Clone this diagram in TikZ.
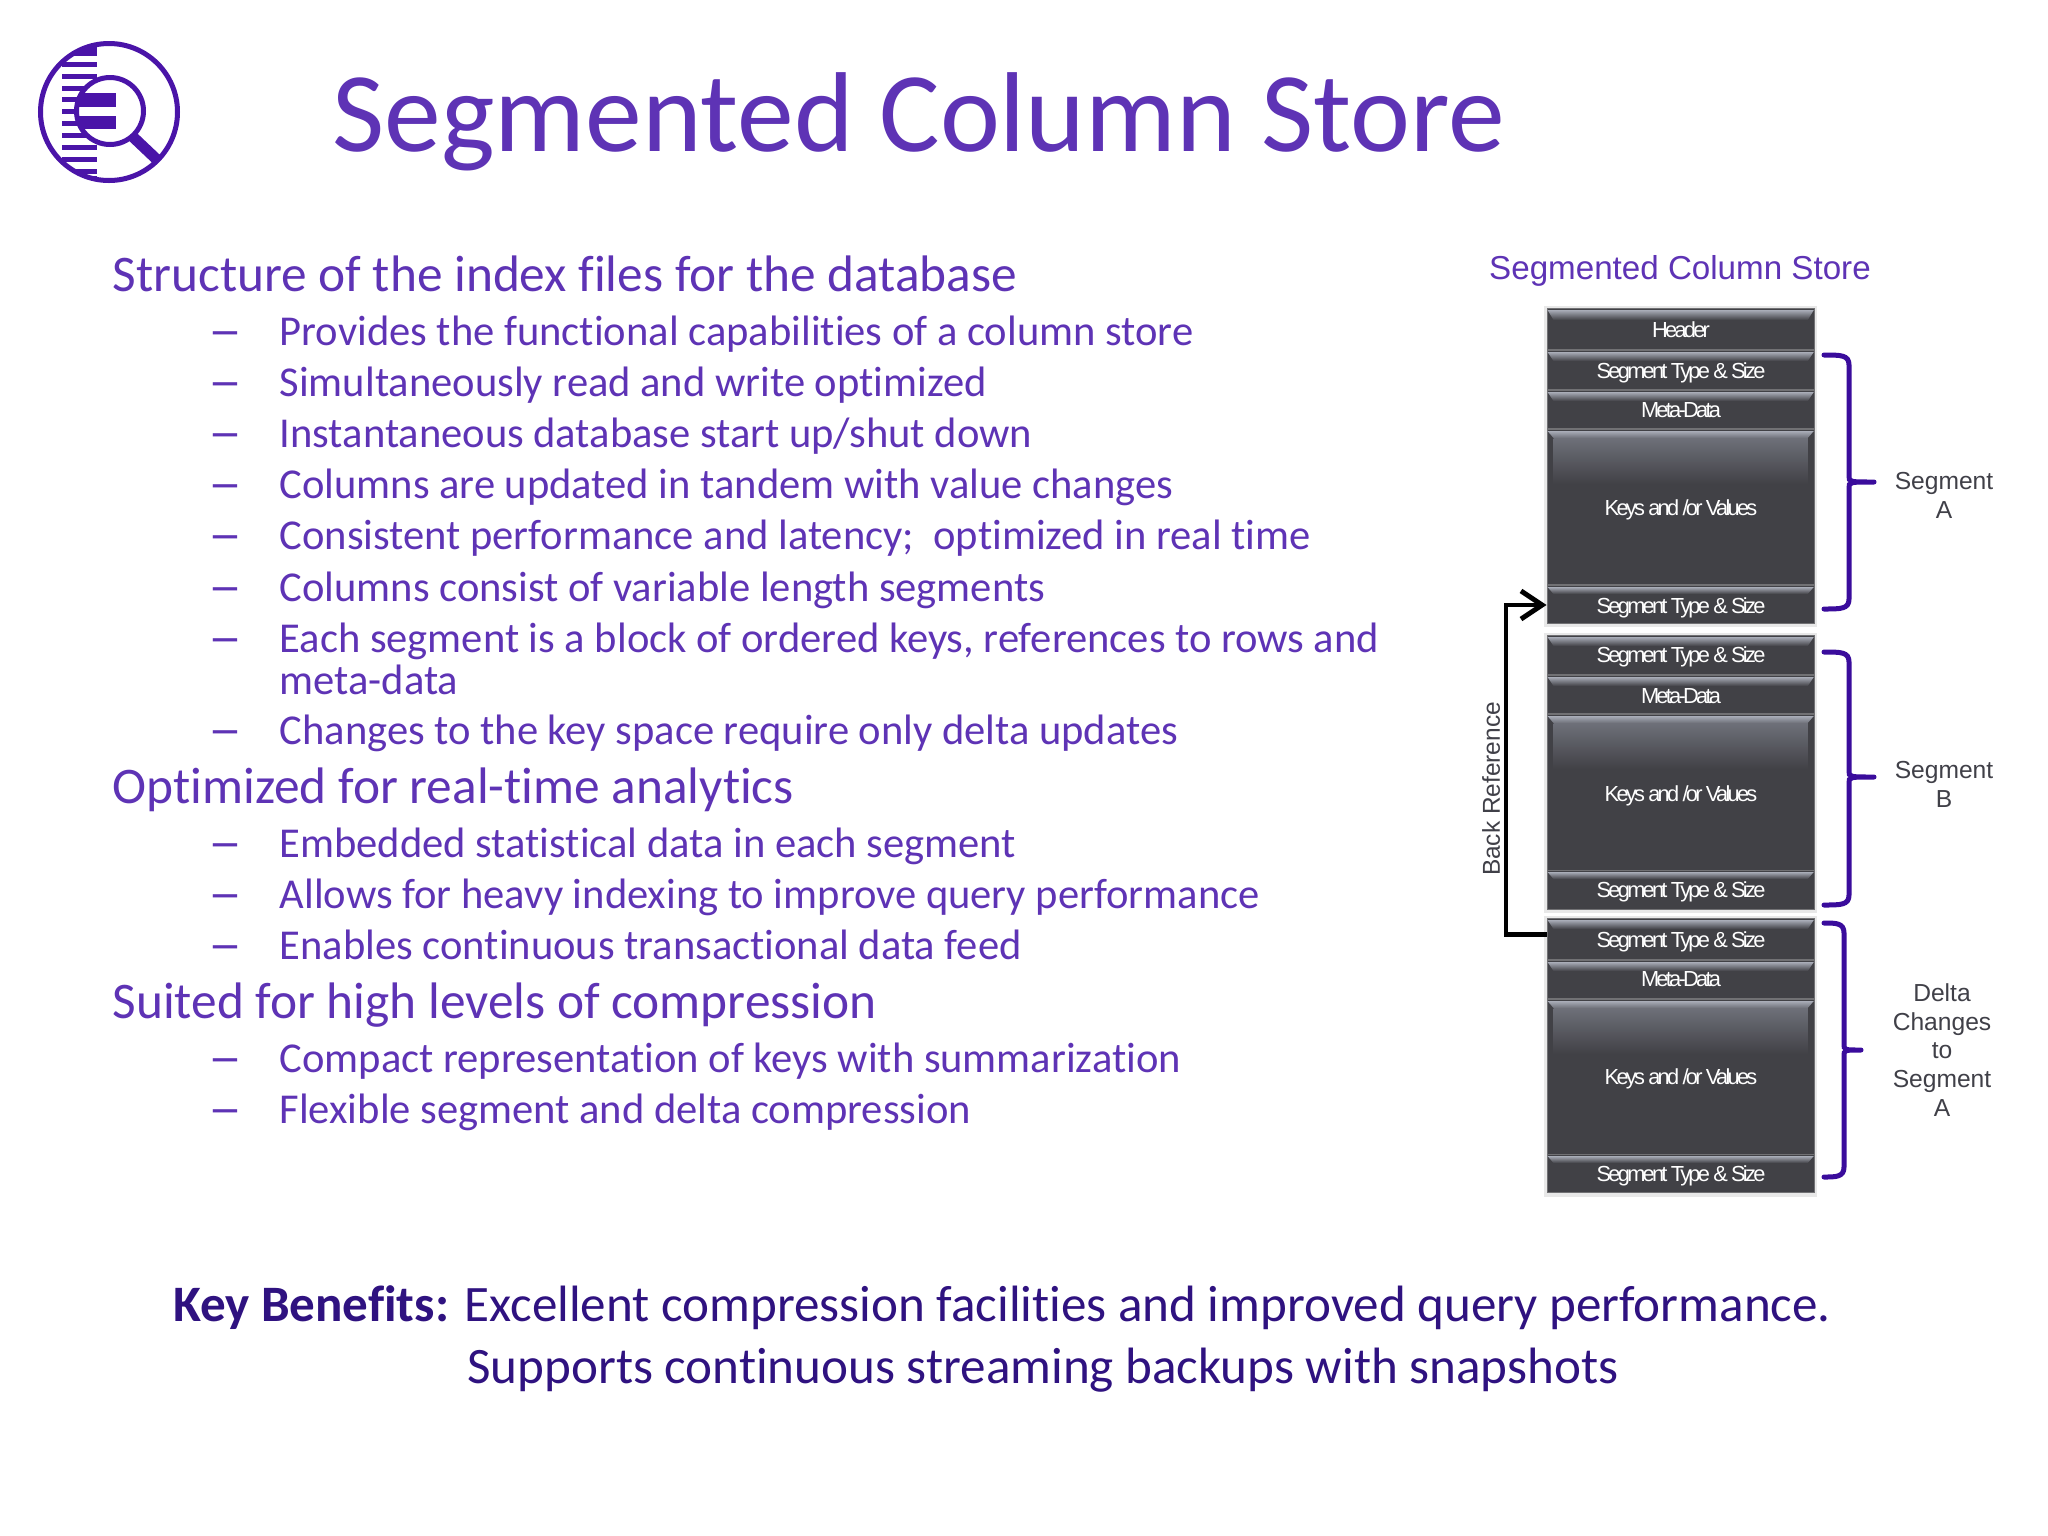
\documentclass[tikz,border=0pt]{standalone}
\usepackage{fontspec}
\setmainfont{Carlito}[Ligatures=NoCommon]
\newfontfamily\arialf{Liberation Sans}
\newfontfamily\cellf{Liberation Sans}[LetterSpace=-12.5]
\usetikzlibrary{arrows.meta,calc}
\definecolor{txtp}{HTML}{5E33B5}
\definecolor{logop}{HTML}{4A14A8}
\definecolor{darkp}{HTML}{2F1280}
\definecolor{brk}{HTML}{3A0C9C}
\definecolor{boxd}{HTML}{414146}
\definecolor{boxm}{HTML}{6E7079}
\definecolor{boxl}{HTML}{A9ADB8}
\definecolor{lbl}{HTML}{404048}
\newlength{\pxu}\setlength{\pxu}{0.01cm}
\tikzset{
 x=0.01cm,y=-0.01cm,
 cell/.style={draw=boxd!75!white,line width=0.35pt,fill=boxd,inner sep=0pt,minimum width=267\pxu},
 celltext/.style={anchor=mid,text=white,font=\cellf\fontsize{6.2}{7}\selectfont,inner sep=0pt},
 head/.style={anchor=base west,text=txtp,font=\fontsize{14.6}{16}\selectfont,inner sep=0pt},
 bul/.style={anchor=base west,text=txtp,font=\fontsize{12.1}{14}\selectfont,inner sep=0pt},
 dash mark/.style={anchor=base west,text=txtp,font=\fontsize{12.1}{14}\selectfont,inner sep=0pt},
 brace line/.style={draw=brk,line width=5\pxu,line cap=round},
 sidelabel/.style={align=center,text=lbl,font=\arialf\fontsize{7}{8.2}\selectfont,inner sep=0pt},
 keyline/.style={anchor=base,text=darkp,font=\fontsize{14.53}{16}\selectfont,inner sep=0pt},
 cellshadow/.style={fill=black!9},
}
% thin cell: name, top, bottom, highlight depth, text, text y
\newcommand{\cellbox}[6]{%
 \node[cell,anchor=north west,minimum height=#3\pxu-#2\pxu] (#1) at (1546.5,#2) {};
 \shade[top color=boxl,bottom color=boxd] ($(#1.north west)+(1,2)$) -- ($(#1.north east)+(-1,2)$) -- ($(#1.north east)+(-7,#4)$) -- ($(#1.north west)+(7,#4)$) -- cycle;
 \node[celltext] (#1t) at (1681,#6) {#5};
}
% tall cell: name, top, bottom, text, text y
\newcommand{\keysbox}[5]{%
 \node[cell,anchor=north west,minimum height=#3\pxu-#2\pxu] (#1) at (1546.5,#2) {};
 \shade[top color=boxm,bottom color=boxd] ($(#1.north west)+(7,9)$) -- ($(#1.north east)+(-7,9)$) -- ($(#1.north east)+(-7,55)$) -- ($(#1.north west)+(7,55)$) -- cycle;
 \shade[top color=boxl,bottom color=boxm] ($(#1.north west)+(1,2)$) -- ($(#1.north east)+(-1,2)$) -- ($(#1.north east)+(-7,9)$) -- ($(#1.north west)+(7,9)$) -- cycle;
 \node[celltext] (#1t) at (1681,#5) {#4};
}
\newcommand{\bracketshape}[6]{% xtip, xcorner, xmid, ytop, ymid, ybot
 \draw[brace line] (#1,#4) .. controls (#2-8,#4) and (#2,#4) .. (#2,#4+10) -- (#2,#5-6) .. controls (#2,#5) and (#2,#5) .. (#3,#5)
   (#2,#5+6) .. controls (#2,#5) and (#2,#5) .. (#3,#5)
   (#2,#5+6) -- (#2,#6-10) .. controls (#2,#6) and (#2-8,#6) .. (#1,#6);
}
\begin{document}
\begin{tikzpicture}
\useasboundingbox (0,0) rectangle (2048,1536);
\fill[white] (0,0) rectangle (2048,1536);
% logo
\begin{scope}
\clip (109,112) circle (69);
\foreach \yy in {53,64,76,88,99,111,123,135,147,159,171}
 \fill[logop] (62,\yy-2.5) rectangle (96.5,\yy+2.5);
\fill[logop] (60,176) rectangle (96.5,190);
\fill[logop] (60,34) rectangle (96.5,54);
\draw[logop,line width=11\pxu] (132,136) -- (170,172);
\end{scope}
\node[circle,draw=logop,line width=5\pxu,minimum size=137\pxu,inner sep=0pt] (logoring) at (109,112) {};
\node[circle,draw=logop,fill=white,line width=5\pxu,minimum size=67\pxu,inner sep=0pt] (lens) at (110,111) {};
\begin{scope}
\clip (110,111) circle (33);
\fill[logop] (70,93) rectangle (116,107);
\fill[logop] (70,116) rectangle (116,129);
\end{scope}
% title
\node[anchor=base west,text=txtp,font=\fontsize{32.3}{36}\selectfont,inner sep=0pt] (title) at (332,151) {Segmented Column Store};
% left text
\node[head] (h1) at (112,291) {Structure of the index files for the database};
\foreach \nm/\yy/\tt in {a/345/{Provides the functional capabilities of a column store},
 b/396/{Simultaneously read and write optimized},
 c/447/{Instantaneous database start up/shut down},
 d/498/{Columns are updated in tandem with value changes},
 e/549/{Consistent performance and latency;\ \ optimized in real time},
 f/601/{Columns consist of variable length segments},
 g/652/{Each segment is a block of ordered keys, references to rows and},
 i/744/{Changes to the key space require only delta updates},
 j/857/{Embedded statistical data in each segment},
 k/908/{Allows for heavy indexing to improve query performance},
 l/959/{Enables continuous transactional data feed},
 m/1072/{Compact representation of keys with summarization},
 n/1123/{Flexible segment and delta compression}}{
 \node[dash mark] (d\nm) at (208,\yy+2) {\scalebox{1.6}[1.2]{–}};
 \node[bul] (t\nm) at (279,\yy) {\tt};
}
\node[bul] (th) at (279,694) {meta-data};
\node[head] (h2) at (112,803) {Optimized for real-time analytics};
\node[head] (h3) at (112,1018) {Suited for high levels of compression};
% key benefits
\node[keyline] (k1) at (1002,1321) {\textbf{Key Benefits:} Excellent compression facilities and improved query performance.};
\node[keyline] (k2) at (1043,1383) {Supports continuous streaming backups with snapshots};
% diagram
\node[text=txtp,font=\arialf\fontsize{9.43}{11}\selectfont,inner sep=0pt] (dtitle) at (1680,271) {Segmented Column Store};
\fill[cellshadow] (1544,306) rectangle (1817,627);
\fill[cellshadow] (1544,633) rectangle (1817,913);
\fill[cellshadow] (1544,916) rectangle (1817,1197);
\cellbox{hdr}{308}{349}{12}{Header}{329}
\cellbox{a1}{350}{389}{11}{Segment Type \& Size}{370}
\cellbox{a2}{390}{428}{11}{Meta-Data}{409}
\keysbox{a3}{429}{584}{Keys and /or Values}{507}
\cellbox{a4}{585}{623}{9}{Segment Type \& Size}{605}
\cellbox{b1}{635}{674}{11}{Segment Type \& Size}{654}
\cellbox{b2}{675}{713}{11}{Meta-Data}{695}
\keysbox{b3}{714}{870}{Keys and /or Values}{793}
\cellbox{b4}{870}{909}{9}{Segment Type \& Size}{889}
\cellbox{c1}{918}{959}{11}{Segment Type \& Size}{939}
\cellbox{c2}{960}{998}{11}{Meta-Data}{978}
\keysbox{c3}{999}{1154}{Keys and /or Values}{1076}
\cellbox{c4}{1154}{1192}{9}{Segment Type \& Size}{1173}
% brackets
\bracketshape{1824}{1849}{1874}{355}{482}{609}
\bracketshape{1824}{1849}{1874}{652}{777}{905}
\bracketshape{1824}{1844}{1861}{923}{1050}{1177}
\node[sidelabel] (sa) at (1944,495) {Segment\\A};
\node[sidelabel] (sb) at (1944,784) {Segment\\B};
\node[sidelabel] (sc) at (1942,1050) {Delta\\Changes\\to\\Segment\\A};
% back reference
\coordinate (backturn) at (1506,605);
\coordinate (backstart) at ($(c1.west)+(0,-5)$);
\draw[black,line width=1.4pt,-{Straight Barb[length=6pt,width=8pt,line width=1.4pt]}] (backstart) -- (backstart -| backturn) -- (backturn) -- (backturn -| a4.west);
\node[rotate=90,text=lbl,font=\arialf\fontsize{6.95}{9}\selectfont,inner sep=0pt] (backref) at (1491,789) {Back Reference};
\end{tikzpicture}
\end{document}
